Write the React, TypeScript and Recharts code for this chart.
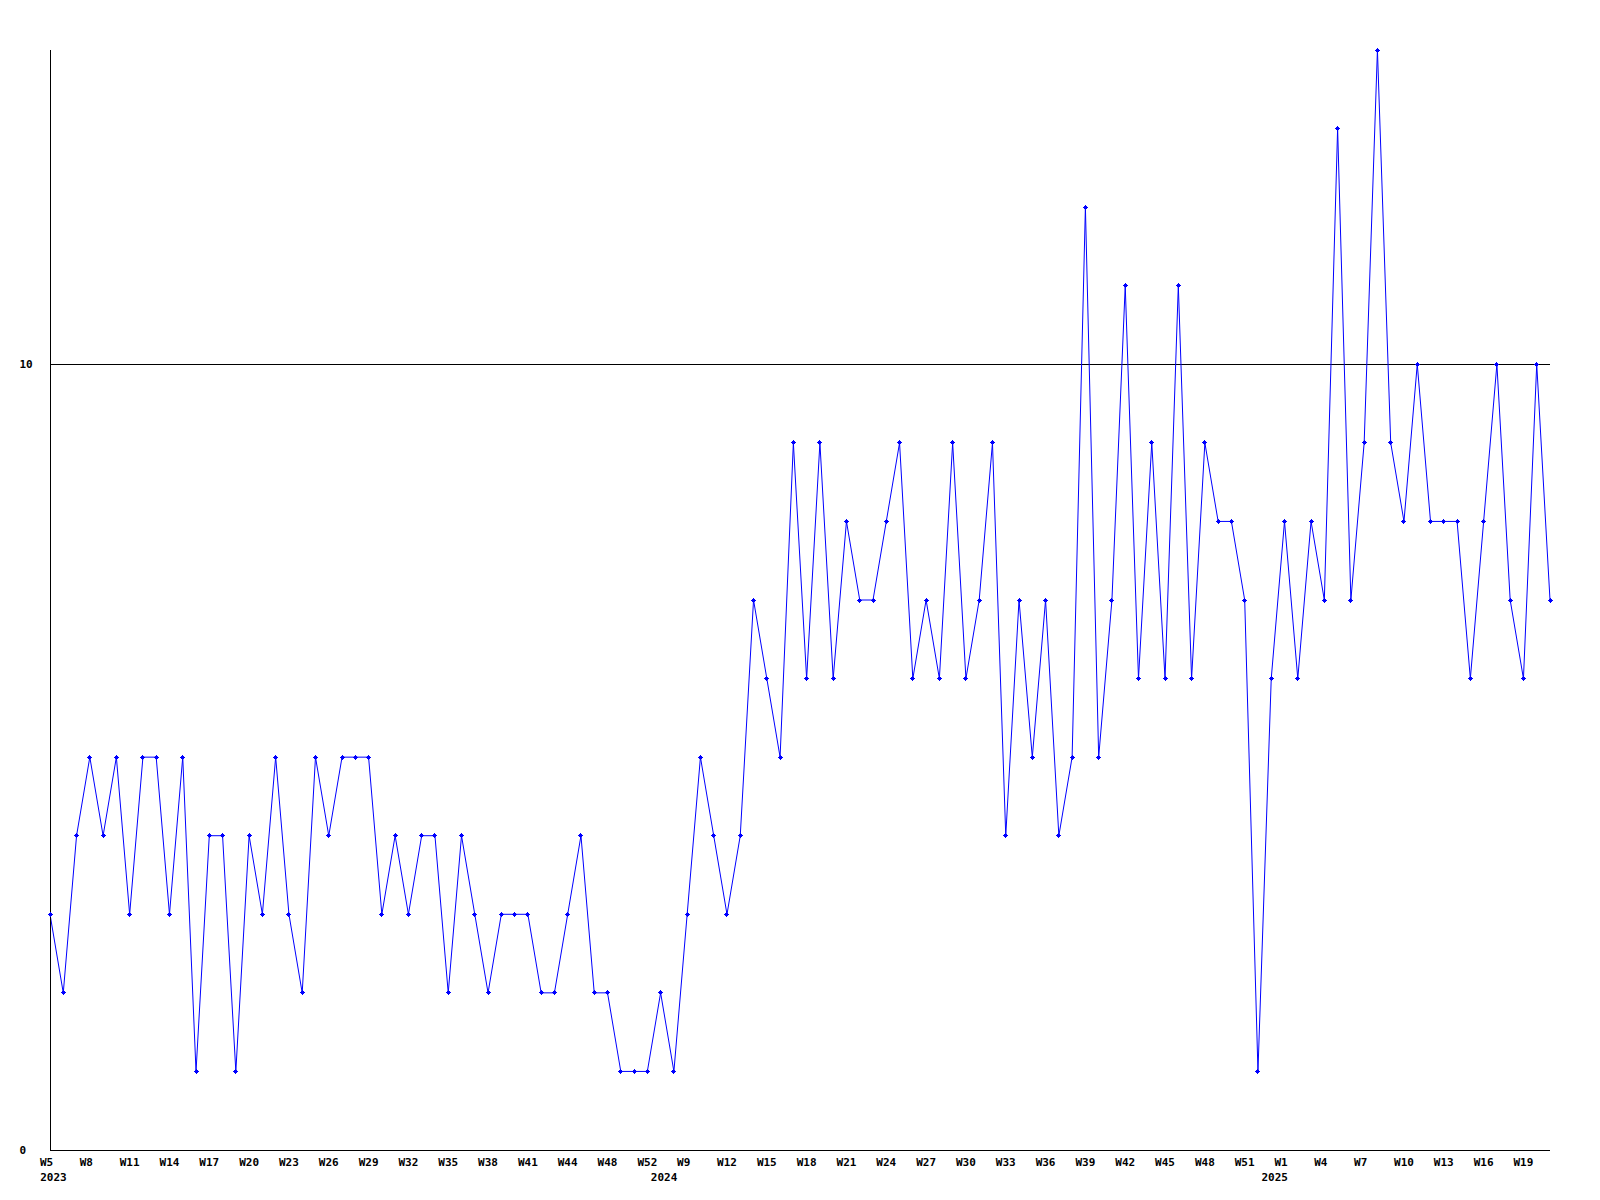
import React from 'react';
import { LineChart, Line, XAxis, YAxis, ReferenceLine } from 'recharts';

// week labels per year, in the order the points appear
const weeks2023 = [
	'W5', 'W6', 'W7', 'W8', 'W9', 'W10', 'W11', 'W12', 'W13', 'W14',
	'W15', 'W16', 'W17', 'W18', 'W19', 'W20', 'W21', 'W22', 'W23', 'W24',
	'W25', 'W26', 'W27', 'W28', 'W29', 'W30', 'W31', 'W32', 'W33', 'W34',
	'W35', 'W36', 'W37', 'W38', 'W39', 'W40', 'W41', 'W42', 'W43', 'W44',
	'W45', 'W46', 'W48', 'W49', 'W50', 'W52',
];
const weeks2024 = [
	'W0', 'W8', 'W9', 'W10', 'W11', 'W12', 'W13', 'W14', 'W15', 'W16',
	'W17', 'W18', 'W19', 'W20', 'W21', 'W22', 'W23', 'W24', 'W25', 'W26',
	'W27', 'W28', 'W29', 'W30', 'W31', 'W32', 'W33', 'W34', 'W35', 'W36',
	'W37', 'W38', 'W39', 'W40', 'W41', 'W42', 'W43', 'W44', 'W45', 'W46',
	'W47', 'W48', 'W49', 'W50', 'W51', 'W52',
];
const weeks2025 = [
	'W0', 'W1', 'W2', 'W3', 'W4', 'W5', 'W6', 'W7', 'W8', 'W9', 'W10',
	'W11', 'W12', 'W13', 'W14', 'W15', 'W16', 'W17', 'W18', 'W19', 'W20', 'W21',
];
const years = ['2023', '2024', '2025'];

const values2023 = [
	3, 2, 4, 5, 4, 5, 3, 5, 5, 3,
	5, 1, 4, 4, 1, 4, 3, 5, 3, 2,
	5, 4, 5, 5, 5, 3, 4, 3, 4, 4,
	2, 4, 3, 2, 3, 3, 3, 2, 2, 3,
	4, 2, 2, 1, 1, 1,
];
const values2024 = [
	2, 1, 3, 5, 4, 3, 4, 7, 6, 5,
	9, 6, 9, 6, 8, 7, 7, 8, 9, 6,
	7, 6, 9, 6, 7, 9, 4, 7, 5, 7,
	4, 5, 12, 5, 7, 11, 6, 9, 6, 11,
	6, 9, 8, 8, 7, 1,
];
const values2025 = [
	6, 8, 6, 8, 7, 13, 7, 9, 14, 9, 8,
	10, 8, 8, 8, 6, 8, 10, 7, 6, 10, 7,
];

const yTicks = [0, 10];

const weekLists = [weeks2023, weeks2024, weeks2025];
const valueLists = [values2023, values2024, values2025];

const data = weekLists.flatMap((weeks, y) =>
	weeks.map((week, i) => ({
		week,
		year: i === 0 ? years[y] : '',
		count: valueLists[y][i],
	}))
);

const font = {
	fontFamily: '"DejaVu Sans Mono", monospace',
	fontSize: 11,
	fontWeight: 'bold' as const,
	fill: '#000',
};

// labels are centred as if padded to 3 characters
const WeekTick = (props: any) => {
	const { x, y, index } = props;
	const row = data[index];
	if (!row) return null;
	const pad = (3 - row.week.length) * 3.5;
	return (
		<g>
			{index % 3 === 0 && (
				<text x={x - pad} y={y + 16} textAnchor='middle' {...font}>
					{row.week}
				</text>
			)}
			{row.year && (
				<text x={x + 3.5} y={y + 31} textAnchor='middle' {...font}>
					{row.year}
				</text>
			)}
		</g>
	);
};

const CountTick = (props: any) => {
	const { y, payload } = props;
	return (
		<text x={11.5} y={y + 4} textAnchor='start' {...font}>
			{payload.value}
		</text>
	);
};

const Marker = (props: any) => {
	const { cx, cy } = props;
	if (cx == null || cy == null) return null;
	return (
		<g fill='#0000ff' shapeRendering='crispEdges'>
			<rect x={cx - 1.5} y={cy - 1.5} width={3} height={3} />
			<rect x={cx - 2.5} y={cy - 0.5} width={5} height={1} />
			<rect x={cx - 0.5} y={cy - 2.5} width={1} height={5} />
		</g>
	);
};

export default function App() {
	return (
		<LineChart
			width={1584}
			height={1184}
			data={data}
			margin={{ top: 42, right: 42, left: 0, bottom: 0 }}
		>
			<XAxis
				dataKey='week'
				interval={0}
				height={42}
				tickLine={false}
				tickSize={0}
				tickMargin={0}
				axisLine={{ stroke: '#000', shapeRendering: 'crispEdges' }}
				tick={<WeekTick />}
			/>
			<YAxis
				domain={[0, 14]}
				ticks={yTicks}
				width={42}
				tickLine={false}
				axisLine={{ stroke: '#000', shapeRendering: 'crispEdges' }}
				tick={<CountTick />}
			/>
			<ReferenceLine y={10} stroke='#000' shapeRendering='crispEdges' />
			<Line
				type='linear'
				dataKey='count'
				stroke='#0000ff'
				strokeWidth={1}
				dot={<Marker />}
				activeDot={false}
				isAnimationActive={false}
			/>
		</LineChart>
	);
}
